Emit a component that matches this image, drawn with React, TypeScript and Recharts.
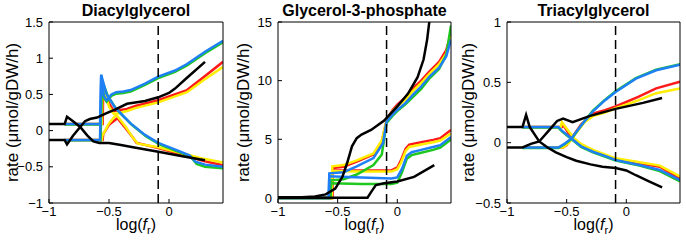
import React from 'react';
import { LineChart, Line, XAxis, YAxis, ReferenceLine } from 'recharts';

type Pt = [number, number];

// shared x axis (log of f_r)
const xDomain: [number, number] = [-1, 0.45];
const xTicks = [-1, -0.5, 0];
const dashX = -0.09;

// ---- Diacylglycerol ----
const dagYTicks = [-1, -0.5, 0, 0.5, 1, 1.5];
const dagRedUp: Pt[] = [[-0.87, 0.09], [-0.553, 0.09], [-0.548, 0.6], [-0.5, 0.38], [-0.46, 0.27], [-0.42, 0.28], [-0.35, 0.3], [-0.28, 0.34], [-0.09, 0.42], [0.15, 0.56], [0.29, 0.74], [0.45, 0.95]];
const dagRedLow: Pt[] = [[-0.87, -0.13], [-0.553, -0.13], [-0.548, -0.05], [-0.5, 0.08], [-0.43, 0.17], [-0.36, 0.03], [-0.3, -0.1], [-0.27, -0.17], [-0.09, -0.24], [0.15, -0.35], [0.29, -0.42], [0.45, -0.48]];
const dagYellowUp: Pt[] = [[-0.87, 0.09], [-0.56, 0.09], [-0.555, 0.65], [-0.5, 0.33], [-0.46, 0.23], [-0.42, 0.24], [-0.35, 0.27], [-0.28, 0.31], [-0.09, 0.39], [0.15, 0.53], [0.29, 0.7], [0.45, 0.88]];
const dagYellowLow: Pt[] = [[-0.87, -0.13], [-0.56, -0.13], [-0.555, -0.07], [-0.5, 0.1], [-0.44, 0.22], [-0.36, 0.05], [-0.3, -0.1], [-0.26, -0.18], [-0.09, -0.23], [0.15, -0.33], [0.29, -0.39], [0.45, -0.44]];
const dagGreenUp: Pt[] = [[-0.87, 0.085], [-0.57, 0.085], [-0.56, 0.7], [-0.54, 0.45], [-0.52, 0.4], [-0.48, 0.48], [-0.44, 0.51], [-0.38, 0.52], [-0.32, 0.54], [-0.2, 0.63], [-0.09, 0.725], [0.05, 0.81], [0.15, 0.9], [0.3, 1.07], [0.45, 1.22]];
const dagGreenLow: Pt[] = [[-0.87, -0.135], [-0.57, -0.135], [-0.56, 0.7], [-0.51, 0.48], [-0.44, 0.3], [-0.37, 0.18], [-0.31, 0.08], [-0.19, -0.08], [-0.08, -0.19], [0.09, -0.3], [0.18, -0.36], [0.23, -0.46], [0.3, -0.5], [0.45, -0.52]];
const dagBlueUp: Pt[] = [[-0.87, 0.09], [-0.575, 0.09], [-0.565, 0.77], [-0.545, 0.48], [-0.52, 0.42], [-0.48, 0.5], [-0.44, 0.53], [-0.38, 0.54], [-0.32, 0.56], [-0.2, 0.65], [-0.09, 0.745], [0.05, 0.83], [0.15, 0.92], [0.3, 1.09], [0.45, 1.24]];
const dagBlueLow: Pt[] = [[-0.87, -0.13], [-0.575, -0.13], [-0.565, 0.77], [-0.52, 0.5], [-0.45, 0.32], [-0.38, 0.2], [-0.32, 0.1], [-0.2, -0.06], [-0.09, -0.17], [0.08, -0.28], [0.17, -0.34], [0.22, -0.43], [0.3, -0.47], [0.45, -0.5]];
const dagBlackA: Pt[] = [[-1, 0.09], [-0.87, 0.09], [-0.85, 0.19], [-0.8, 0.13], [-0.74, 0.05], [-0.68, -0.07], [-0.63, -0.15], [-0.58, -0.17], [-0.5, -0.17], [-0.4, -0.2], [-0.3, -0.23], [-0.1, -0.29], [0.1, -0.35], [0.3, -0.41]];
const dagBlackB: Pt[] = [[-1, -0.13], [-0.87, -0.13], [-0.85, -0.19], [-0.8, -0.07], [-0.74, 0.05], [-0.7, 0.13], [-0.66, 0.16], [-0.6, 0.18], [-0.52, 0.24], [-0.45, 0.29], [-0.35, 0.37], [-0.2, 0.41], [-0.09, 0.46], [0, 0.52], [0.05, 0.58], [0.15, 0.73], [0.3, 0.95]];

// ---- Glycerol-3-phosphate ----
const g3pYTicks = [0, 5, 10, 15];
const g3pRedUp: Pt[] = [[-1, 0], [-0.545, 0], [-0.54, 2.55], [-0.45, 2.65], [-0.34, 3.1], [-0.2, 3.7], [-0.13, 4.8], [-0.09, 6.6], [-0.04, 7.5], [0, 7.95], [0.07, 8.6], [0.13, 9.35], [0.2, 10], [0.27, 10.8], [0.35, 11.6], [0.41, 12.6], [0.45, 14]];
const g3pRedLow: Pt[] = [[-1, 0], [-0.545, 0], [-0.54, 2.35], [-0.3, 2.35], [-0.05, 2.35], [0, 2.6], [0.03, 3.2], [0.07, 4.2], [0.1, 4.55], [0.2, 4.75], [0.3, 4.95], [0.36, 5.1], [0.45, 5.8]];
const g3pYellowUp: Pt[] = [[-1, 0], [-0.55, 0], [-0.545, 2.7], [-0.45, 2.8], [-0.34, 3.2], [-0.2, 3.8], [-0.13, 4.9], [-0.09, 6.6], [-0.04, 7.4], [0, 7.8], [0.07, 8.4], [0.13, 9.1], [0.2, 9.8], [0.27, 10.6], [0.35, 11.4], [0.41, 12.3], [0.45, 13.8]];
const g3pYellowLow: Pt[] = [[-1, 0], [-0.55, 0], [-0.545, 2.3], [-0.3, 2.25], [-0.05, 2.25], [0, 2.45], [0.03, 3], [0.07, 4], [0.1, 4.35], [0.2, 4.55], [0.3, 4.75], [0.36, 4.9], [0.45, 5.5]];
const g3pGreenUp: Pt[] = [[-1, 0], [-0.56, 0], [-0.555, 1.5], [-0.45, 1.6], [-0.34, 2], [-0.2, 2.8], [-0.13, 3.7], [-0.09, 6.4], [-0.04, 7], [0, 7.4], [0.07, 8], [0.13, 8.6], [0.2, 9.3], [0.27, 10.2], [0.35, 11], [0.41, 12.2], [0.45, 14.7]];
const g3pGreenLow: Pt[] = [[-1, 0], [-0.56, 0], [-0.555, 1.25], [-0.3, 1.2], [-0.05, 1.2], [0, 1.3], [0.04, 2.2], [0.08, 3.35], [0.12, 3.65], [0.2, 3.85], [0.3, 4.1], [0.36, 4.3], [0.45, 5]];
const g3pBlueUp: Pt[] = [[-1, 0], [-0.575, 0], [-0.57, 2.1], [-0.45, 2.2], [-0.34, 2.7], [-0.2, 3.4], [-0.12, 4.66], [-0.09, 6.5], [-0.04, 7.1], [0, 7.5], [0.07, 8.1], [0.13, 8.78], [0.2, 9.5], [0.27, 10.35], [0.35, 11.1], [0.41, 12.05], [0.45, 13.5]];
const g3pBlueLow: Pt[] = [[-1, 0], [-0.575, 0], [-0.57, 1.85], [-0.3, 1.75], [-0.05, 1.65], [0, 1.75], [0.04, 2.5], [0.08, 3.6], [0.12, 3.9], [0.2, 4.1], [0.3, 4.35], [0.36, 4.5], [0.45, 5.2]];
const g3pBlackA: Pt[] = [[-1, 0.05], [-0.8, 0.05], [-0.69, 0.12], [-0.6, 0.3], [-0.52, 0.8], [-0.46, 1.8], [-0.42, 3], [-0.38, 4.4], [-0.34, 5.1], [-0.3, 5.4], [-0.22, 5.8], [-0.11, 6.6], [0, 7.8], [0.09, 8.9], [0.17, 10.3], [0.22, 11.8], [0.25, 13.5], [0.28, 16]];
const g3pBlackB: Pt[] = [[-1, 0.02], [-0.25, 0.02], [-0.22, 0.5], [-0.18, 1.1], [-0.11, 1.25], [0, 1.4], [0.14, 1.8], [0.31, 2.8]];

// ---- Triacylglycerol ----
const tagYTicks = [-0.5, 0, 0.5, 1];
const tagRedUp: Pt[] = [[-0.87, -0.04], [-0.53, -0.04], [-0.5, -0.02], [-0.45, 0.05], [-0.38, 0.15], [-0.28, 0.24], [-0.18, 0.27], [-0.09, 0.3], [0.1, 0.38], [0.25, 0.45], [0.45, 0.505]];
const tagRedLow: Pt[] = [[-0.87, 0.13], [-0.54, 0.13], [-0.53, 0.15], [-0.48, 0.07], [-0.45, 0.04], [-0.38, -0.02], [-0.28, -0.065], [-0.09, -0.14], [0.1, -0.17], [0.28, -0.2], [0.45, -0.3]];
const tagYellowUp: Pt[] = [[-0.87, -0.04], [-0.53, -0.04], [-0.48, 0], [-0.42, 0.08], [-0.35, 0.17], [-0.28, 0.22], [-0.18, 0.25], [-0.09, 0.285], [0.1, 0.35], [0.25, 0.41], [0.45, 0.45]];
const tagYellowLow: Pt[] = [[-0.87, 0.13], [-0.55, 0.13], [-0.54, 0.17], [-0.48, 0.09], [-0.44, 0.04], [-0.38, -0.01], [-0.28, -0.06], [-0.09, -0.13], [0.1, -0.16], [0.28, -0.19], [0.45, -0.28]];
const tagGreenUp: Pt[] = [[-0.87, -0.045], [-0.57, -0.045], [-0.52, -0.015], [-0.46, 0.03], [-0.38, 0.14], [-0.28, 0.265], [-0.18, 0.355], [-0.09, 0.425], [0.08, 0.535], [0.25, 0.605], [0.45, 0.65]];
const tagGreenLow: Pt[] = [[-0.87, 0.125], [-0.57, 0.125], [-0.54, 0.095], [-0.46, 0.03], [-0.38, -0.035], [-0.28, -0.08], [-0.18, -0.115], [-0.09, -0.148], [0.11, -0.19], [0.28, -0.235], [0.45, -0.32]];
const tagBlueUp: Pt[] = [[-0.87, -0.04], [-0.57, -0.04], [-0.52, -0.01], [-0.46, 0.035], [-0.38, 0.14], [-0.28, 0.26], [-0.18, 0.35], [-0.09, 0.42], [0.08, 0.53], [0.25, 0.6], [0.45, 0.645]];
const tagBlueLow: Pt[] = [[-0.87, 0.13], [-0.57, 0.13], [-0.54, 0.1], [-0.46, 0.035], [-0.38, -0.03], [-0.28, -0.075], [-0.18, -0.11], [-0.09, -0.143], [0.11, -0.185], [0.28, -0.226], [0.45, -0.31]];
const tagBlackA: Pt[] = [[-1, 0.13], [-0.87, 0.13], [-0.84, 0.23], [-0.81, 0.13], [-0.73, 0.01], [-0.66, -0.04], [-0.59, -0.08], [-0.5, -0.12], [-0.42, -0.15], [-0.3, -0.18], [-0.2, -0.2], [-0.09, -0.21], [0, -0.23], [0.08, -0.27], [0.19, -0.32], [0.3, -0.37]];
const tagBlackB: Pt[] = [[-1, -0.04], [-0.87, -0.04], [-0.8, -0.01], [-0.73, 0.01], [-0.65, 0.1], [-0.58, 0.18], [-0.53, 0.2], [-0.45, 0.17], [-0.31, 0.22], [-0.09, 0.28], [0.14, 0.33], [0.3, 0.37]];

const RED = '#ff1a1a';
const YELLOW = '#ffee00';
const GREEN = '#1ec81e';
const BLUE = '#1f80f5';
const BLACK = '#000000';

const W = 686;
const H = 243;
const TOP = 22;
const BOTTOM = 203;
const FONT = '"Liberation Sans", Arial, Helvetica, sans-serif';
const Y_AXIS_W = 40;
const X_AXIS_H = 30;
const EDGE = 4; // size reserved for the mirrored top/right axes

type Series = { pts: Pt[]; color: string };

const toRows = (pts: Pt[]) => pts.map(([x, y]) => ({ x, y }));
const fmtTick = (v: number) => String(v).replace('-', '\u2212');

function Panel({ x0, x1, yDomain, yTicks, series }: { x0: number; x1: number; yDomain: [number, number]; yTicks: number[]; series: Series[] }) {
  const tickStyle = { fill: '#000', fontSize: 13, fontFamily: FONT };
  return (
    <div style={{ position: 'absolute', left: 0, top: 0 }}>
      <LineChart width={W} height={H}
        margin={{ top: TOP - EDGE, bottom: H - BOTTOM - X_AXIS_H, left: x0 - Y_AXIS_W, right: W - x1 - EDGE }}>
        <XAxis dataKey="x" type="number" domain={xDomain} ticks={xTicks} allowDataOverflow height={X_AXIS_H}
          tickSize={-4} tickMargin={8} stroke="#000" tick={tickStyle} tickFormatter={fmtTick} />
        <XAxis xAxisId="top" orientation="top" type="number" domain={xDomain} ticks={xTicks} allowDataOverflow height={EDGE}
          tickSize={-4} stroke="#000" tick={false} />
        <YAxis type="number" domain={yDomain} ticks={yTicks} allowDataOverflow width={Y_AXIS_W}
          tickSize={-4} tickMargin={10} stroke="#000" tick={tickStyle} tickFormatter={fmtTick} />
        <YAxis yAxisId="right" orientation="right" type="number" domain={yDomain} ticks={yTicks} allowDataOverflow width={EDGE}
          tickSize={-4} stroke="#000" tick={false} />
        {series.map((s, i) => (
          <Line key={i} data={toRows(s.pts)} dataKey="y" type="linear" stroke={s.color} strokeWidth={2.5}
            dot={false} activeDot={false} isAnimationActive={false} />
        ))}
        <ReferenceLine x={dashX} stroke="#000" strokeWidth={1.5} strokeDasharray="9 5" />
      </LineChart>
    </div>
  );
}

const dagSeries: Series[] = [
  { pts: dagRedUp, color: RED }, { pts: dagRedLow, color: RED },
  { pts: dagYellowUp, color: YELLOW }, { pts: dagYellowLow, color: YELLOW },
  { pts: dagGreenUp, color: GREEN }, { pts: dagGreenLow, color: GREEN },
  { pts: dagBlueUp, color: BLUE }, { pts: dagBlueLow, color: BLUE },
  { pts: dagBlackA, color: BLACK }, { pts: dagBlackB, color: BLACK },
];
const g3pSeries: Series[] = [
  { pts: g3pRedUp, color: RED }, { pts: g3pRedLow, color: RED },
  { pts: g3pYellowUp, color: YELLOW }, { pts: g3pYellowLow, color: YELLOW },
  { pts: g3pGreenUp, color: GREEN }, { pts: g3pGreenLow, color: GREEN },
  { pts: g3pBlueUp, color: BLUE }, { pts: g3pBlueLow, color: BLUE },
  { pts: g3pBlackA, color: BLACK }, { pts: g3pBlackB, color: BLACK },
];
const tagSeries: Series[] = [
  { pts: tagRedUp, color: RED }, { pts: tagRedLow, color: RED },
  { pts: tagYellowUp, color: YELLOW }, { pts: tagYellowLow, color: YELLOW },
  { pts: tagGreenUp, color: GREEN }, { pts: tagGreenLow, color: GREEN },
  { pts: tagBlueUp, color: BLUE }, { pts: tagBlueLow, color: BLUE },
  { pts: tagBlackA, color: BLACK }, { pts: tagBlackB, color: BLACK },
];

const panels = [
  { title: 'Diacylglycerol', x0: 49, x1: 223, yLabelX: 12.5, yDomain: [-1, 1.5] as [number, number], yTicks: dagYTicks, series: dagSeries },
  { title: 'Glycerol-3-phosphate', x0: 278, x1: 451, yLabelX: 243.5, yDomain: [-0.43, 15] as [number, number], yTicks: g3pYTicks, series: g3pSeries },
  { title: 'Triacylglycerol', x0: 507, x1: 680, yLabelX: 468, yDomain: [-0.5, 1] as [number, number], yTicks: tagYTicks, series: tagSeries },
];

export default function App() {
  return (
    <div style={{ position: 'absolute', left: 0, top: 0, width: W, height: H, background: '#fff', fontFamily: FONT }}>
      {panels.map((p) => (
        <Panel key={p.title} x0={p.x0} x1={p.x1} yDomain={p.yDomain} yTicks={p.yTicks} series={p.series} />
      ))}
      {/* titles and axis labels */}
      <svg width={W} height={H} style={{ position: 'absolute', left: 0, top: 0, pointerEvents: 'none' }}>
        {panels.map((p) => {
          const cx = (p.x0 + p.x1) / 2;
          const cy = (TOP + BOTTOM) / 2;
          return (
            <g key={p.title} fontFamily={FONT} fill="#000">
              <text x={cx} y={16} textAnchor="middle" fontSize={16} fontWeight="bold">{p.title}</text>
              <text x={cx} y={230} textAnchor="middle" fontSize={16}>
                log(<tspan fontStyle="italic">f</tspan><tspan fontSize={11} dy={4}>r</tspan><tspan dy={-4}>)</tspan>
              </text>
              <text x={p.yLabelX} y={cy} textAnchor="middle" dominantBaseline="central" fontSize={17}
                transform={`rotate(-90 ${p.yLabelX} ${cy})`}>
                rate (μmol/gDW/h)
              </text>
            </g>
          );
        })}
      </svg>
    </div>
  );
}
